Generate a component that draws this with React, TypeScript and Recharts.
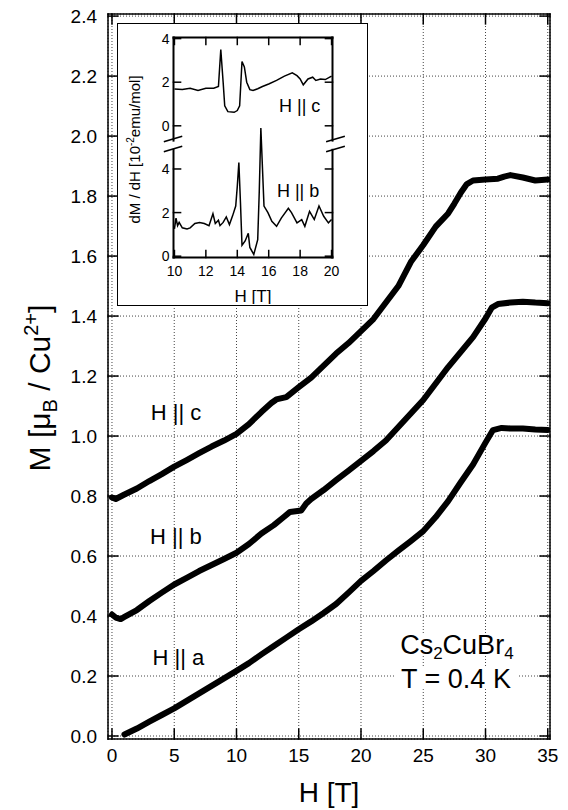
import {
  CartesianGrid,
  Label,
  Line,
  LineChart,
  ReferenceDot,
  ReferenceLine,
  XAxis,
  YAxis,
} from "recharts";

const FONT = "'Liberation Sans', Arial, Helvetica, sans-serif";

// main panel: magnetization M(H), T = 0.4 K
const H_C = [0, 0.3, 1, 2, 3, 4, 5, 6, 7, 8, 9, 10, 11, 12, 12.8, 13.2, 14, 14.6, 15, 16, 17, 18, 19, 20, 21, 22, 23, 24, 25, 26, 27, 27.5, 28, 28.5, 29, 30, 31, 31.5, 32, 33, 34, 35];
const M_C = [0.795, 0.79, 0.805, 0.825, 0.85, 0.873, 0.898, 0.92, 0.943, 0.965, 0.985, 1.007, 1.04, 1.08, 1.11, 1.122, 1.13, 1.15, 1.163, 1.195, 1.235, 1.275, 1.31, 1.35, 1.39, 1.445, 1.5, 1.58, 1.637, 1.698, 1.742, 1.775, 1.81, 1.84, 1.852, 1.855, 1.858, 1.865, 1.87, 1.862, 1.852, 1.855];

const H_B = [0, 0.3, 0.7, 1, 2, 3, 4, 5, 6, 7, 8, 9, 10, 11, 12, 13, 13.8, 14.3, 15.2, 15.6, 16, 17, 18, 19, 20, 21, 22, 23, 24, 25, 26, 27, 28, 29, 30, 30.5, 31, 32, 33, 34, 35];
const M_B = [0.405, 0.395, 0.39, 0.397, 0.42, 0.45, 0.478, 0.505, 0.527, 0.55, 0.57, 0.59, 0.611, 0.64, 0.675, 0.703, 0.73, 0.747, 0.752, 0.775, 0.79, 0.82, 0.853, 0.885, 0.917, 0.95, 0.985, 1.03, 1.075, 1.12, 1.175, 1.23, 1.28, 1.33, 1.392, 1.428, 1.44, 1.445, 1.448, 1.445, 1.443];

const H_A = [1, 2, 3, 4, 5, 6, 7, 8, 9, 10, 11, 12, 13, 14, 15, 16, 17, 18, 19, 20, 21, 22, 23, 24, 25, 26, 27, 28, 29, 30, 30.6, 31.3, 32, 33, 34, 35];
const M_A = [0.005, 0.025, 0.048, 0.07, 0.092, 0.117, 0.142, 0.167, 0.192, 0.217, 0.243, 0.272, 0.3, 0.328, 0.356, 0.382, 0.41, 0.44, 0.478, 0.517, 0.55, 0.585, 0.618, 0.65, 0.683, 0.73, 0.783, 0.845, 0.905, 0.978, 1.02, 1.027, 1.025, 1.025, 1.022, 1.02];

const H_TICKS = [0, 5, 10, 15, 20, 25, 30, 35];
const M_TICKS = [0, 0.2, 0.4, 0.6, 0.8, 1.0, 1.2, 1.4, 1.6, 1.8, 2.0, 2.2, 2.4];

// inset: dM/dH around the 13-16 T anomalies
const IN_H_C = [10.0, 10.5, 11.0, 11.5, 12.0, 12.5, 12.8, 12.95, 13.1, 13.2, 13.4, 13.8, 14.0, 14.15, 14.3, 14.45, 14.6, 14.8, 15.0, 15.3, 15.6, 16.0, 16.5, 17.0, 17.5, 17.8, 18.0, 18.2, 18.5, 18.8, 19.0, 19.3, 19.6, 20.0];
const IN_C = [1.69, 1.66, 1.72, 1.62, 1.72, 1.72, 1.8, 3.5, 2.0, 0.92, 0.65, 0.62, 0.7, 0.92, 2.95, 2.7, 2.0, 1.66, 1.62, 1.7, 1.8, 1.92, 2.08, 2.28, 2.43, 2.3, 2.15, 1.88, 2.15, 2.23, 2.08, 2.15, 2.12, 2.28];

const IN_H_B = [10.0, 10.1, 10.2, 10.3, 10.5, 10.8, 11.0, 11.3, 11.6, 11.9, 12.2, 12.45, 12.6, 12.8, 12.9, 13.1, 13.3, 13.5, 13.7, 13.9, 14.0, 14.1, 14.2, 14.3, 14.5, 14.7, 14.8, 15.05, 15.3, 15.4, 15.5, 15.7, 15.95, 16.2, 16.5, 16.8, 17.25, 17.45, 17.8, 18.1, 18.3, 18.6, 18.9, 19.2, 19.5, 19.8, 20.0];
const IN_B = [1.25, 1.75, 1.4, 1.55, 1.3, 1.25, 1.3, 1.5, 1.55, 1.5, 1.4, 1.95, 1.5, 1.65, 1.4, 1.55, 1.8, 1.45, 1.85, 2.3, 3.2, 4.3, 2.5, 0.5, 0.7, 1.05, 0.4, 0.08, 0.76, 3.0, 5.88, 2.3, 2.0, 1.6, 1.37, 1.75, 2.2, 2.0, 1.53, 1.68, 1.37, 2.06, 1.68, 2.3, 1.83, 1.53, 1.68];

const INSET_H_TICKS = [10, 12, 14, 16, 18, 20];
const INSET_Y_TICKS = [0, 2, 4];

const rows = (hs: number[], vs: number[]) => hs.map((h, i) => ({ h, v: vs[i] }));

const MAIN_X: [number, number] = [-0.32, 35.18];
const MAIN_Y: [number, number] = [-0.01, 2.407];
const INSET_X: [number, number] = [9.94, 20.06];
const LOWER_Y: [number, number] = [-0.06, 10.03];
const UPPER_Y: [number, number] = [-6.04, 4.05];
// inward tick lengths in data units (~10px main, ~7px inset)
const MAIN_TDX = 0.8;
const MAIN_TDY = 0.033;
const INSET_TDX = 0.45;
const INSET_TDY = 0.32;
// gap in the inset frame for the axis break (lower-panel units)
const BREAK: [number, number] = [4.88, 5.3];

const seg = (key: string, x1: number, y1: number, x2: number, y2: number, w: number) => (
  <ReferenceLine
    key={key}
    segment={[{ x: x1, y: y1 }, { x: x2, y: y2 }]}
    stroke="#000"
    strokeWidth={w}
    strokeLinecap="square"
    ifOverflow="visible"
  />
);

const note =
  (content: React.ReactNode, size: number, box?: [number, number]) =>
  (props: any) => {
    const vb = props.viewBox ?? {};
    const cx = (vb.x ?? 0) + (vb.width ?? 0) / 2;
    const cy = (vb.y ?? 0) + (vb.height ?? 0) / 2;
    return (
      <g>
        {box && (
          <rect x={cx - box[0] / 2} y={cy - box[1] / 2} width={box[0]} height={box[1]} fill="#fff" />
        )}
        <text x={cx} y={cy} dy="0.36em" textAnchor="middle" fontSize={size} fontFamily={FONT} fill="#000">
          {content}
        </text>
      </g>
    );
  };

function MainTitleY(props: any) {
  const vb = props.viewBox ?? {};
  const cx = (vb.x ?? 0) + 42;
  const cy = (vb.y ?? 0) + 374;
  return (
    <text
      x={cx}
      y={cy}
      textAnchor="middle"
      fontSize={30}
      fontFamily={FONT}
      fill="#000"
      transform={`rotate(-90 ${cx} ${cy})`}
    >
      M [μ<tspan dy={7} fontSize={20}>B</tspan>
      <tspan dy={-7}> / Cu</tspan>
      <tspan dy={-12} fontSize={20}>2+</tspan>
      <tspan dy={12}>]</tspan>
    </text>
  );
}

function MainTitleX(props: any) {
  const vb = props.viewBox ?? {};
  return (
    <text
      x={(vb.x ?? 0) + (vb.width ?? 0) / 2}
      y={(vb.y ?? 0) + 63}
      textAnchor="middle"
      fontSize={28}
      fontFamily={FONT}
      fill="#000"
    >
      H [T]
    </text>
  );
}

function InsetTitleY(props: any) {
  const vb = props.viewBox ?? {};
  const cx = (vb.x ?? 0) + 22;
  const cy = (vb.y ?? 0) + (vb.height ?? 0) / 2 + 2;
  return (
    <text
      x={cx}
      y={cy}
      textAnchor="middle"
      fontSize={15}
      fontFamily={FONT}
      fill="#000"
      transform={`rotate(-90 ${cx} ${cy})`}
    >
      dM / dH [10<tspan dy={-6} fontSize={10}>-2</tspan>
      <tspan dy={6}>emu/mol]</tspan>
    </text>
  );
}

function InsetTitleX(props: any) {
  const vb = props.viewBox ?? {};
  return (
    <text
      x={(vb.x ?? 0) + (vb.width ?? 0) / 2}
      y={(vb.y ?? 0) + 44}
      textAnchor="middle"
      fontSize={17}
      fontFamily={FONT}
      fill="#000"
    >
      H [T]
    </text>
  );
}

const INSET_W = 248;
const INSET_H = 280;
const INSET_MARGIN = { top: 13.5, right: 33.5, bottom: 16.5, left: 0 };
const tickFont = (size: number) => ({ fill: "#000", fontSize: size, fontFamily: FONT });

function InsetLower() {
  const [x0, x1] = INSET_X;
  const [y0, y1] = LOWER_Y;
  return (
    <LineChart width={INSET_W} height={INSET_H} margin={INSET_MARGIN}>
      <XAxis
        dataKey="h"
        type="number"
        domain={INSET_X}
        allowDataOverflow
        ticks={INSET_H_TICKS}
        interval={0}
        height={30}
        tickSize={-7}
        tickMargin={16}
        axisLine={false}
        tickLine={false}
        tick={tickFont(14)}
      >
        <Label content={InsetTitleX} />
      </XAxis>
      <YAxis
        type="number"
        domain={LOWER_Y}
        allowDataOverflow
        ticks={INSET_Y_TICKS}
        interval={0}
        width={55.5}
        tickSize={-7}
        tickMargin={11}
        axisLine={false}
        tickLine={false}
        tick={tickFont(14)}
      >
        <Label content={InsetTitleY} />
      </YAxis>
      <Line
        data={rows(IN_H_B, IN_B)}
        dataKey="v"
        type="linear"
        stroke="#000"
        strokeWidth={1.5}
        dot={false}
        isAnimationActive={false}
      />
      {/* frame, broken on both sides */}
      {seg("fb", x0, y0, x1, y0, 2)}
      {seg("ft", x0, y1, x1, y1, 2)}
      {seg("fl1", x0, y0, x0, BREAK[0], 2)}
      {seg("fl2", x0, BREAK[1], x0, y1, 2)}
      {seg("fr1", x1, y0, x1, BREAK[0], 2)}
      {seg("fr2", x1, BREAK[1], x1, y1, 2)}
      {seg("bl1", 9.37, 4.8, 10.45, 5.03, 1.5)}
      {seg("bl2", 9.37, 5.26, 10.45, 5.49, 1.5)}
      {seg("br1", 19.7, 4.8, 20.8, 5.03, 1.5)}
      {seg("br2", 19.7, 5.26, 20.8, 5.49, 1.5)}
      {INSET_H_TICKS.map((t) => seg(`tb${t}`, t, y0, t, y0 + INSET_TDY, 1.5))}
      {INSET_H_TICKS.map((t) => seg(`tt${t}`, t, y1, t, y1 - INSET_TDY, 1.5))}
      {INSET_Y_TICKS.map((t) => seg(`tl${t}`, x0, t, x0 + INSET_TDX, t, 1.5))}
      {INSET_Y_TICKS.map((t) => seg(`tr${t}`, x1, t, x1 - INSET_TDX, t, 1.5))}
      <ReferenceDot x={17.87} y={2.99} r={0} fill="none" stroke="none" label={note("H || b", 18)} />
    </LineChart>
  );
}

function InsetUpper() {
  const [x0, x1] = INSET_X;
  return (
    <LineChart width={INSET_W} height={INSET_H} margin={INSET_MARGIN}>
      <XAxis
        dataKey="h"
        type="number"
        domain={INSET_X}
        allowDataOverflow
        height={30}
        tick={false}
        tickLine={false}
        axisLine={false}
      />
      <YAxis
        type="number"
        domain={UPPER_Y}
        allowDataOverflow
        ticks={INSET_Y_TICKS}
        interval={0}
        width={55.5}
        tickSize={-7}
        tickMargin={11}
        axisLine={false}
        tickLine={false}
        tick={tickFont(14)}
      />
      <Line
        data={rows(IN_H_C, IN_C)}
        dataKey="v"
        type="linear"
        stroke="#000"
        strokeWidth={1.5}
        dot={false}
        isAnimationActive={false}
      />
      {INSET_Y_TICKS.map((t) => seg(`ul${t}`, x0, t, x0 + INSET_TDX, t, 1.5))}
      {INSET_Y_TICKS.map((t) => seg(`ur${t}`, x1, t, x1 - INSET_TDX, t, 1.5))}
      <ReferenceDot x={17.97} y={0.91} r={0} fill="none" stroke="none" label={note("H || c", 18)} />
    </LineChart>
  );
}

export default function App() {
  const [x0, x1] = MAIN_X;
  const [y0, y1] = MAIN_Y;
  const curve = {
    dataKey: "v",
    type: "linear" as const,
    stroke: "#000",
    strokeWidth: 6,
    strokeLinecap: "round" as const,
    strokeLinejoin: "round" as const,
    dot: false,
    isAnimationActive: false,
  };

  return (
    <div style={{ position: "relative", width: 560, height: 800, background: "#fff" }}>
      <LineChart width={560} height={800} margin={{ top: 6, right: 18, bottom: 0, left: 0 }}>
        <CartesianGrid stroke="#444" strokeDasharray="1 2" strokeWidth={1} />
        <XAxis
          dataKey="h"
          type="number"
          domain={MAIN_X}
          allowDataOverflow
          ticks={H_TICKS}
          interval={0}
          height={69}
          tickSize={-10}
          tickMargin={20}
          axisLine={false}
          tickLine={false}
          tick={tickFont(19)}
        >
          <Label content={MainTitleX} />
        </XAxis>
        <YAxis
          type="number"
          domain={MAIN_Y}
          allowDataOverflow
          ticks={M_TICKS}
          interval={0}
          width={100}
          tickSize={-10}
          tickMargin={21}
          tickFormatter={(v: number) => v.toFixed(1)}
          axisLine={false}
          tickLine={false}
          tick={tickFont(19)}
        >
          <Label content={MainTitleY} />
        </YAxis>
        {/* frame with inward ticks on all four sides */}
        {seg("fb", x0, y0, x1, y0, 1.5)}
        {seg("ft", x0, y1, x1, y1, 1.5)}
        {seg("fl", x0, y0, x0, y1, 1.5)}
        {seg("fr", x1, y0, x1, y1, 1.5)}
        {H_TICKS.map((t) => seg(`tb${t}`, t, y0, t, y0 + MAIN_TDY, 1.5))}
        {H_TICKS.map((t) => seg(`tt${t}`, t, y1, t, y1 - MAIN_TDY, 1.5))}
        {M_TICKS.map((t) => seg(`tl${t}`, x0, t, x0 + MAIN_TDX, t, 1.5))}
        {M_TICKS.map((t) => seg(`tr${t}`, x1, t, x1 - MAIN_TDX, t, 1.5))}
        <Line {...curve} data={rows(H_A, M_A)} name="H || a" />
        <Line {...curve} data={rows(H_B, M_B)} name="H || b" />
        <Line {...curve} data={rows(H_C, M_C)} name="H || c" />
        <ReferenceDot x={5.14} y={1.079} r={0} fill="none" stroke="none" label={note("H || c", 22)} />
        <ReferenceDot x={5.14} y={0.667} r={0} fill="none" stroke="none" label={note("H || b", 22)} />
        <ReferenceDot x={5.34} y={0.262} r={0} fill="none" stroke="none" label={note("H || a", 22)} />
        <ReferenceDot
          x={27.7}
          y={0.306}
          r={0}
          fill="none"
          stroke="none"
          label={note(
            <>
              Cs<tspan dy={5} fontSize={17}>2</tspan>
              <tspan dy={-5}>CuBr</tspan>
              <tspan dy={5} fontSize={17}>4</tspan>
            </>,
            27,
            [122, 22],
          )}
        />
        <ReferenceDot x={27.63} y={0.193} r={0} fill="none" stroke="none" label={note("T = 0.4 K", 27, [122, 22])} />
      </LineChart>

      <div
        style={{
          position: "absolute",
          left: 109,
          top: 15,
          width: 251,
          height: 283,
          boxSizing: "border-box",
          border: "1.5px solid #000",
          background: "#fff",
        }}
      >
        <div style={{ position: "absolute", left: 0, top: 0 }}>
          <InsetLower />
        </div>
        <div style={{ position: "absolute", left: 0, top: 0 }}>
          <InsetUpper />
        </div>
      </div>
    </div>
  );
}
